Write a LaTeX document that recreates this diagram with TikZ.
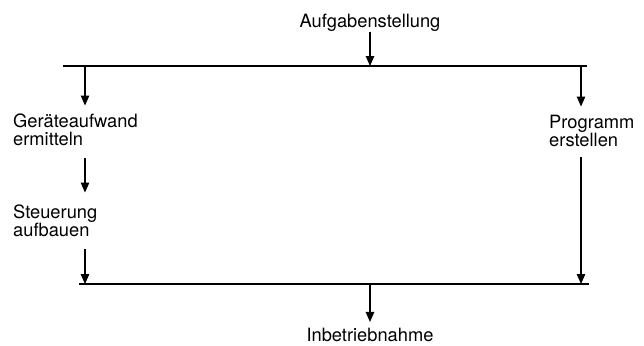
\documentclass[tikz,border=0pt]{standalone}
\usepackage{fontspec}
\setmainfont{TeX Gyre Heros}
\usetikzlibrary{arrows.meta}
\begin{document}
\begin{tikzpicture}[x=1pt,y=-1pt,
  lbl/.style={inner sep=0pt, align=left, font=\fontsize{18.3}{18.5}\selectfont},
  arr/.style={-{Triangle[width=8.5pt,length=10pt]}, line width=1.2pt},
  bar/.style={line width=1.4pt}]
\useasboundingbox (0,0) rectangle (644,345);
% labels
\node[lbl, anchor=base] (a) at (370,27.5) {Aufgabenstellung};
\node[lbl, anchor=north west] (g) at (13,113.5) {Geräteaufwand\\ermitteln};
\node[lbl, anchor=north west] (s) at (13,204.5) {Steuerung\\aufbauen};
\node[lbl, anchor=north west] (p) at (549,114.5) {Programm\\erstellen};
\node[lbl, anchor=base] (i) at (370,341.5) {Inbetriebnahme};
% bars
\coordinate (tl) at (63,66);
\coordinate (tr) at (587,66);
\coordinate (tm) at (370,66);
\coordinate (t1) at (85,66);
\coordinate (t2) at (581,66);
\coordinate (bl) at (79,284);
\coordinate (br) at (589,284);
\coordinate (bm) at (370,284);
\coordinate (b1) at (85,284);
\coordinate (b2) at (581,284);
\draw[bar] (tl) -- (tr);
\draw[bar] (bl) -- (br);
% connectors
\draw[arr] (a.south) -- (tm);
\draw[arr, shorten >=8pt] (t1) -- (t1 |- g.north);
\draw[arr, shorten >=8pt] (t2) -- (t2 |- p.north);
\draw[arr, shorten <=12pt, shorten >=12pt] (t1 |- g.south) -- (t1 |- s.north);
\draw[arr, shorten <=12pt] (t1 |- s.south) -- (b1);
\draw[arr, shorten <=10pt] (t2 |- p.south) -- (b2);
\draw[arr, shorten >=6pt] (bm) -- (i.north);
\end{tikzpicture}
\end{document}
